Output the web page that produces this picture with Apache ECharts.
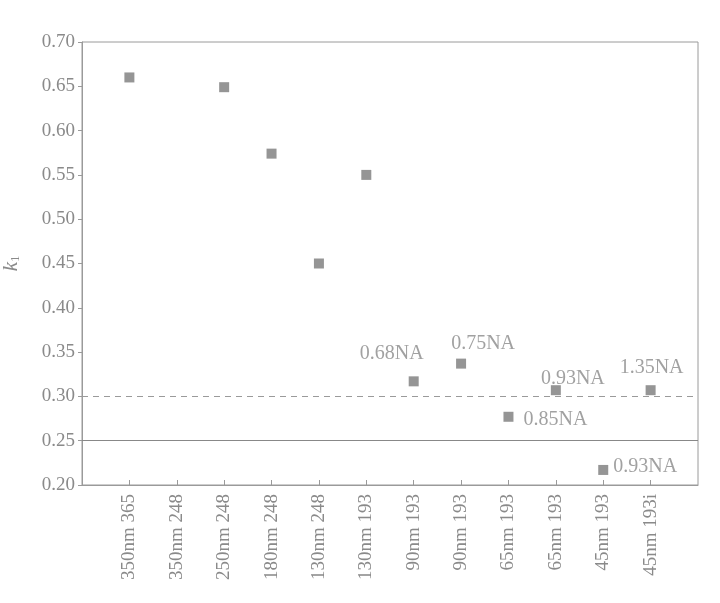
<!DOCTYPE html>
<html>
<head>
<meta charset="utf-8">
<script src="https://cdn.jsdelivr.net/npm/echarts@6/dist/echarts.min.js"></script>
<style>html,body{margin:0;padding:0;background:#fff}#c{width:720px;height:603px}</style>
</head>
<body>
<div id="c"></div>
<script>
var categories = ['350nm 365','350nm 248','250nm 248','180nm 248','130nm 248','130nm 193','90nm 193','90nm 193','65nm 193','65nm 193','45nm 193','45nm 193i'];
var k1Values = [0.66, null, 0.649, 0.574, 0.45, 0.55, 0.317, 0.337, 0.277, 0.307, 0.217, 0.307];
var pointLabels = ['', '', '', '', '', '', '0.68NA', '0.75NA', '0.85NA', '0.93NA', '0.93NA', '1.35NA'];
var labelPlacement = ['', '', '', '', '', '', 'topleft', 'topright', 'right', 'topright2', 'right2', 'top'];
var yTicks = [0.20, 0.25, 0.30, 0.35, 0.40, 0.45, 0.50, 0.55, 0.60, 0.65, 0.70];
var dashedRef = 0.30;
var solidRef = 0.25;

var font = 'Liberation Serif';
var grey = '#8a8a8a';
var lineGrey = '#9a9a9a';

var data = [];
k1Values.forEach(function (v, i) {
  if (v === null) return;
  var p = labelPlacement[i];
  var lbl = {show: !!pointLabels[i], formatter: pointLabels[i], color: grey, fontFamily: font, fontSize: 20};
  if (p === 'topleft') { lbl.position = 'top'; lbl.offset = [-22, -8]; }
  else if (p === 'topright') { lbl.position = 'top'; lbl.offset = [22, 0]; }
  else if (p === 'topright2') { lbl.position = 'top'; lbl.offset = [17, 9]; }
  else if (p === 'top') { lbl.position = 'top'; lbl.offset = [1, -2]; }
  else if (p === 'right') { lbl.position = 'right'; lbl.offset = [5, 3]; }
  else if (p === 'right2') { lbl.position = 'right'; lbl.offset = [0, -3]; }
  data.push({value: [i, v], label: lbl});
});

var chart = echarts.init(document.getElementById('c'));
chart.setOption({
  animation: false,
  backgroundColor: '#fff',
  grid: {left: 82, top: 42, right: 22, bottom: 118, show: true, borderColor: lineGrey, borderWidth: 1,
    containLabel: false, outerBoundsMode: 'none'},
  xAxis: {
    type: 'value', min: -1, max: categories.length, interval: 1,
    axisLine: {show: true, onZero: false, lineStyle: {color: lineGrey}},
    axisTick: {show: true, inside: true, length: 5, lineStyle: {color: lineGrey}},
    splitLine: {show: false},
    axisLabel: {
      rotate: 90, color: grey, fontFamily: font, fontSize: 19, margin: 9,
      showMinLabel: false, showMaxLabel: false,
      formatter: function (v) { return categories[v] !== undefined ? categories[v] : ''; }
    }
  },
  yAxis: {
    type: 'value', min: 0.20, max: 0.70, interval: 0.05,
    name: '{k|k}{s|1}', nameLocation: 'middle', nameGap: 60, nameRotate: 90,
    nameTextStyle: {rich: {
      k: {fontFamily: font, fontStyle: 'italic', fontSize: 21, color: grey},
      s: {fontFamily: font, fontSize: 12, color: grey, verticalAlign: 'bottom', padding: [9, 0, 0, 0]}
    }},
    axisLine: {show: true, onZero: false, lineStyle: {color: lineGrey}},
    axisTick: {show: true, inside: false, length: 4, lineStyle: {color: lineGrey}},
    splitLine: {show: false},
    axisLabel: {color: grey, fontFamily: font, fontSize: 19, margin: 7,
      formatter: function (v) { return v.toFixed(2); }}
  },
  series: [{
    type: 'scatter',
    symbol: 'rect',
    symbolSize: 10,
    itemStyle: {color: '#7a7a7a'},
    data: data,
    markLine: {
      silent: true, symbol: 'none', label: {show: false},
      data: [
        {yAxis: dashedRef, lineStyle: {type: [6, 5], color: lineGrey, width: 1.2}},
        {yAxis: solidRef, lineStyle: {type: 'solid', color: '#888', width: 1.2}}
      ]
    }
  }]
});
</script>
</body>
</html>
